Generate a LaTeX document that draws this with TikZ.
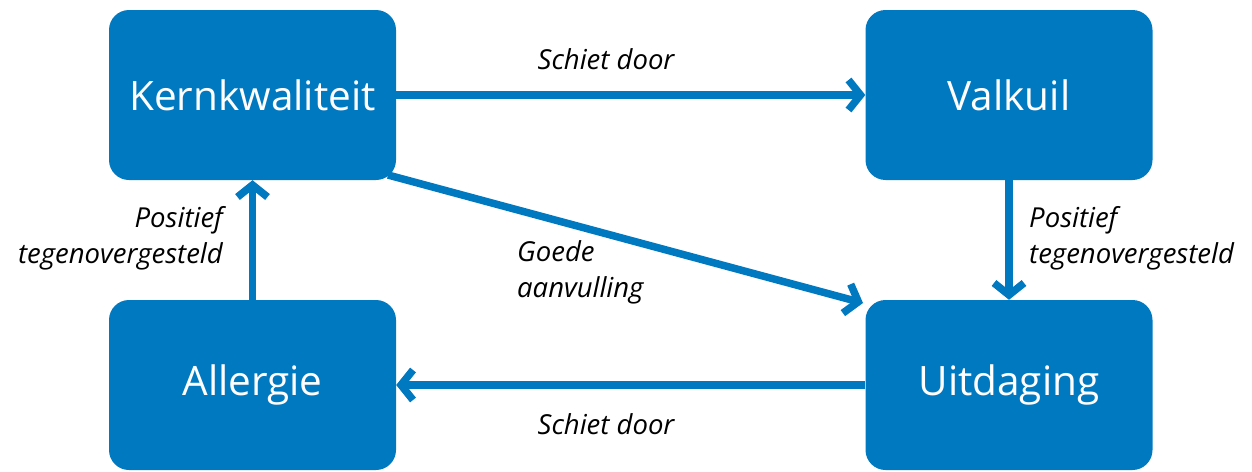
\documentclass[tikz,border=0pt]{standalone}
\usepackage{fontspec}
\setmainfont{Open Sans}
\usetikzlibrary{arrows.meta}
\definecolor{ofblue}{HTML}{0079C1}
\begin{document}
\begin{tikzpicture}[x=1pt,y=-1pt,
  box/.style={fill=ofblue,rounded corners=20pt,minimum width=287pt,minimum height=170pt,
    text=white,font=\fontsize{40.5}{45}\selectfont,inner sep=0pt},
  conn/.style={draw=ofblue,line width=7.5pt,-{Straight Barb[length=12pt,width=30pt,line width=7.5pt]}},
  lbl/.style={font=\fontsize{27.5}{36}\selectfont\itshape,text=black,inner sep=0pt}]
\useasboundingbox (0,0) rectangle (1252,471);
\node[box] (kern) at (252.5,95) {Kernkwaliteit};
\node[box] (valk) at (1009,95) {Valkuil};
\node[box] (aller) at (252.5,385) {Allergie};
\node[box] (uitd) at (1009,385) {Uitdaging};
\coordinate (d1) at (388,175);
\coordinate (d2) at (863,303);
\draw[conn] (kern.east) -- (valk.west);
\draw[conn] (d1) -- (d2);
\draw[conn] (valk.south) -- (uitd.north);
\draw[conn] (uitd.west) -- (aller.east);
\draw[conn] (aller.north) -- (kern.south);
\node[lbl,anchor=center] (l1) at (606,59) {Schiet door};
\node[lbl,anchor=center] (l2) at (606,424) {Schiet door};
\node[lbl,anchor=west,align=left] (l3) at (517,272) {Goede\\aanvulling};
\node[lbl,anchor=west,align=left] (l4) at (1029,238) {Positief\\tegenovergesteld};
\node[lbl,anchor=east,align=right] (l5) at (223,238) {Positief\\tegenovergesteld};
\end{tikzpicture}
\end{document}
